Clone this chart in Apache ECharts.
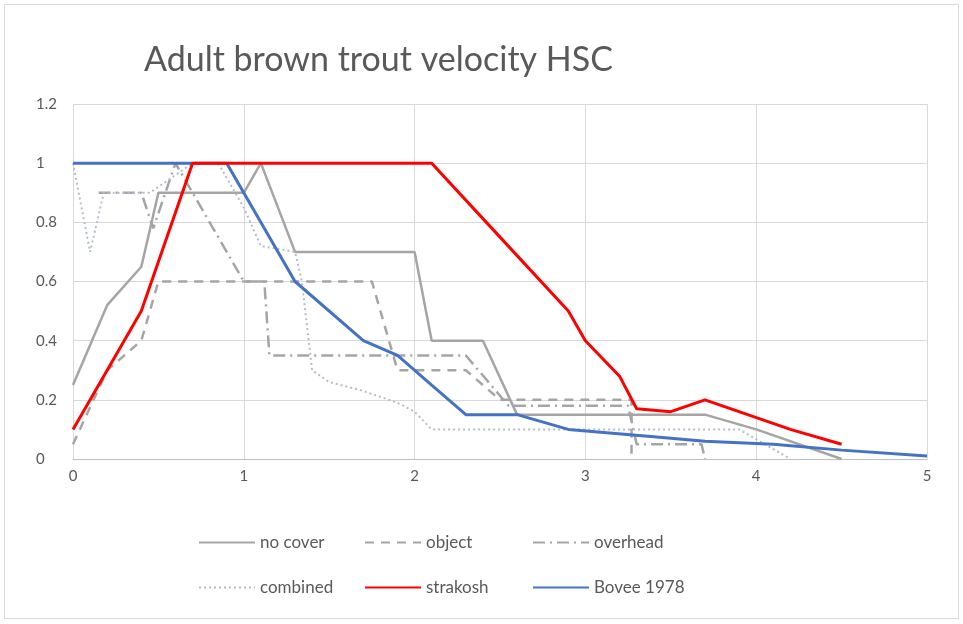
<!DOCTYPE html>
<html>
<head>
<meta charset="utf-8">
<script src="https://cdn.jsdelivr.net/npm/echarts@6/dist/echarts.min.js"></script>
<style>
  html, body { margin: 0; padding: 0; background: #fff; }
  #chart { width: 963px; height: 624px; }
</style>
</head>
<body>
<div id="chart"></div>
<script>
// Habitat suitability curves: [velocity, suitability]
const noCover = [[0,0.25],[0.2,0.52],[0.4,0.65],[0.5,0.9],[1.0,0.9],[1.1,1],[1.3,0.7],[2.0,0.7],[2.1,0.4],[2.4,0.4],[2.6,0.15],[3.7,0.15],[4.0,0.1],[4.5,0]];
const objectCover = [[0,0.05],[0.2,0.3],[0.4,0.4],[0.5,0.6],[1.75,0.6],[1.9,0.3],[2.3,0.3],[2.5,0.2],[3.27,0.2],[3.27,0]];
const overheadCover = [[0.15,0.9],[0.4,0.9],[0.47,0.78],[0.6,1],[0.7,0.9],[1.0,0.6],[1.12,0.6],[1.15,0.35],[2.3,0.35],[2.55,0.18],[3.25,0.18],[3.3,0.05],[3.68,0.05],[3.7,0]];
const combined = [[0,1],[0.1,0.7],[0.18,0.9],[0.45,0.9],[0.7,1],[0.85,1],[1.0,0.85],[1.1,0.72],[1.3,0.7],[1.34,0.6],[1.4,0.3],[1.5,0.26],[1.7,0.23],[1.9,0.19],[2.0,0.16],[2.1,0.1],[3.9,0.1],[4.2,0]];
const strakosh = [[0,0.1],[0.4,0.5],[0.7,1],[2.1,1],[2.5,0.75],[2.9,0.5],[3.0,0.4],[3.2,0.28],[3.3,0.17],[3.5,0.16],[3.7,0.2],[4.2,0.1],[4.5,0.05]];
const bovee = [[0,1],[0.9,1],[1.3,0.6],[1.7,0.4],[1.9,0.35],[2.1,0.25],[2.3,0.15],[2.6,0.15],[2.9,0.1],[3.4,0.075],[3.7,0.06],[4.1,0.05],[4.5,0.03],[5,0.01]];

const FONT = 'Lato, "Open Sans", sans-serif';
const GREY = '#a5a5a5';

function lineSeries(name, data, color, width, type, z) {
  return {
    name, type: 'line', data,
    symbol: 'none', showSymbol: false,
    lineStyle: { color, width, type },
    itemStyle: { color },
    z: z || 2,
    animation: false
  };
}

// one legend per entry so the two rows line up in columns
const legendSpots = [
  { name: 'no cover', left: 193, top: 529 },
  { name: 'object', left: 359, top: 529 },
  { name: 'overhead', left: 527, top: 529 },
  { name: 'combined', left: 193, top: 574 },
  { name: 'strakosh', left: 359, top: 574 },
  { name: 'Bovee 1978', left: 527, top: 574 }
];

const chart = echarts.init(document.getElementById('chart'), null, { renderer: 'canvas' });
chart.setOption({
  backgroundColor: '#ffffff',
  animation: false,
  title: {
    text: 'Adult brown trout velocity HSC',
    left: 139, top: 38,
    textStyle: { fontFamily: FONT, fontSize: 34, fontWeight: 'normal', color: '#595959' }
  },
  graphic: [{
    type: 'rect', shape: { x: 4.5, y: 4.5, width: 954, height: 614 },
    style: { fill: 'none', stroke: '#d9d9d9', lineWidth: 1 }, silent: true, z: -10
  }],
  legend: legendSpots.map(s => ({
    data: [s.name], left: s.left, top: s.top,
    itemWidth: 56, itemHeight: 14, itemGap: 10,
    itemStyle: { opacity: 0 },
    textStyle: { fontFamily: FONT, fontSize: 17, color: '#595959' }
  })),
  grid: { left: 73, right: 36, top: 104, bottom: 165, containLabel: false },
  xAxis: {
    type: 'value', min: 0, max: 5, interval: 1,
    axisLine: { show: true, lineStyle: { color: '#bfbfbf', width: 1 } },
    axisTick: { show: false },
    axisLabel: { fontFamily: FONT, fontSize: 15, color: '#595959', margin: 10 },
    splitLine: { show: true, lineStyle: { color: '#d9d9d9', width: 1 } }
  },
  yAxis: {
    type: 'value', min: 0, max: 1.2, interval: 0.2,
    axisLine: { show: false },
    axisTick: { show: false },
    axisLabel: { fontFamily: FONT, fontSize: 15, color: '#595959', margin: 37, align: 'left',
      formatter: v => String(Math.round(v * 10) / 10) },
    splitLine: { show: true, lineStyle: { color: '#d9d9d9', width: 1 } }
  },
  series: [
    lineSeries('no cover', noCover, GREY, 2.5, 'solid', 3),
    lineSeries('object', objectCover, GREY, 2.5, [9, 7], 3),
    lineSeries('overhead', overheadCover, GREY, 2.5, [12, 5, 2, 5], 3),
    lineSeries('combined', combined, '#b4bccc', 2, [2, 3], 3),
    lineSeries('strakosh', strakosh, '#ff0000', 3, 'solid', 5),
    lineSeries('Bovee 1978', bovee, '#4472c4', 3, 'solid', 4)
  ]
});
</script>
</body>
</html>
